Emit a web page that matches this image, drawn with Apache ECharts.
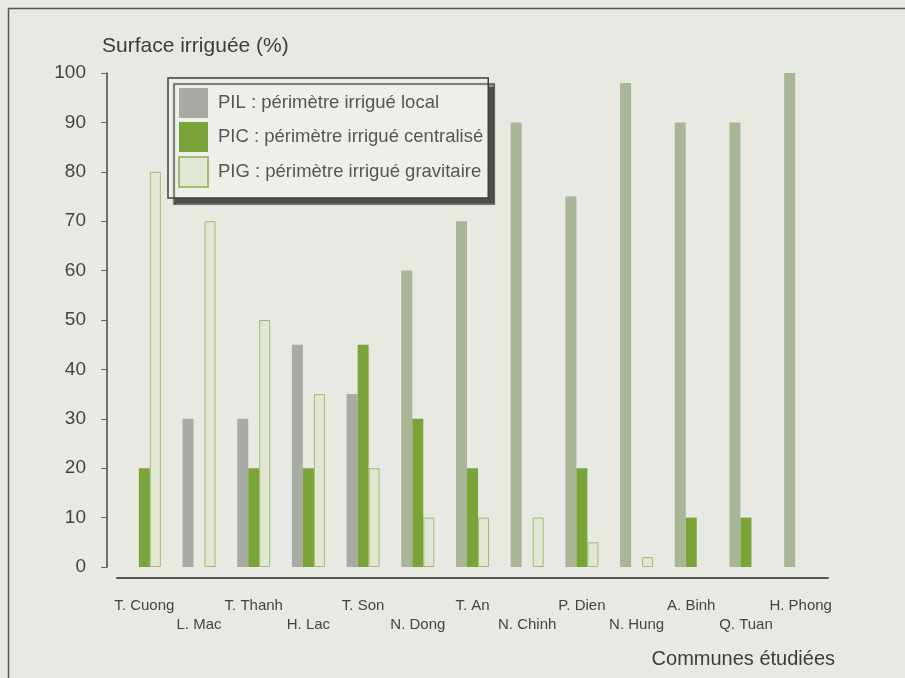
<!DOCTYPE html>
<html>
<head>
<meta charset="utf-8">
<script src="https://cdn.jsdelivr.net/npm/echarts@6/dist/echarts.min.js"></script>
<style>
  html, body { margin: 0; padding: 0; background: #e9e9e3; }
  #chart { width: 905px; height: 678px; }
</style>
</head>
<body>
<div id="chart"></div>
<script>
// communes étudiées
const communes = ['T. Cuong', 'L. Mac', 'T. Thanh', 'H. Lac', 'T. Son', 'N. Dong', 'T. An',
  'N. Chinh', 'P. Dien', 'N. Hung', 'A. Binh', 'Q. Tuan', 'H. Phong'];
// surface irriguée (%)
const pil = [0, 30, 30, 45, 35, 60, 70, 90, 75, 98, 90, 90, 100];
const pic = [20, 0, 20, 20, 45, 30, 20, 0, 20, 0, 10, 10, 0];
const pig = [80, 70, 50, 35, 20, 10, 10, 10, 5, 2, 0, 0, 0];
const yMin = 0, yMax = 100, yStep = 10;

const seriesNames = [
  'PIL : périmètre irrigué local',
  'PIC : périmètre irrigué centralisé',
  'PIG : périmètre irrigué gravitaire'
];

// pas de barre pour les zéros
function bars(arr) {
  return arr.map(v => (v === 0 ? '-' : v));
}

const chart = echarts.init(document.getElementById('chart'));
const font = 'Liberation Sans, Arial, sans-serif';

chart.setOption({
  backgroundColor: '#e9e9e3',
  animation: false,
  textStyle: { fontFamily: font },
  grid: { left: 117, right: 77, top: 73, bottom: 111 },
  legend: {
    orient: 'vertical',
    left: 168,
    top: 78,
    itemWidth: 29,
    itemHeight: 30,
    itemGap: 4,
    padding: [10, 5, 10, 10],
    icon: 'rect',
    backgroundColor: '#efefea',
    borderColor: '#3e3e3e',
    borderWidth: 1.5,
    shadowColor: 'rgba(60,60,60,0.9)',
    shadowBlur: 1,
    shadowOffsetX: 6,
    shadowOffsetY: 6,
    textStyle: { fontSize: 18.5, color: '#555', padding: [0, 0, 0, 5] },
    data: [
      { name: seriesNames[0], itemStyle: { color: '#a8aaa6' } },
      { name: seriesNames[1] },
      { name: seriesNames[2] }
    ]
  },
  xAxis: {
    type: 'category',
    data: communes,
    offset: 11,
    axisLine: { onZero: false, lineStyle: { color: '#555', width: 2 } },
    axisTick: { length: 5, lineStyle: { color: '#777' } },
    axisLabel: {
      interval: 0,
      margin: 18,
      fontSize: 15,
      color: '#444',
      lineHeight: 19,
      verticalAlign: 'top',
      formatter: (v, i) => (i % 2 === 1 ? '\n' + v : v)
    }
  },
  yAxis: {
    type: 'value',
    min: yMin,
    max: yMax,
    interval: yStep,
    offset: 10,
    splitLine: { show: false },
    axisLine: { show: true, lineStyle: { color: '#444', width: 1.5 } },
    axisTick: { show: true, length: 6, lineStyle: { color: '#666' } },
    axisLabel: { fontSize: 19, color: '#444', margin: 21 }
  },
  series: [
    {
      name: seriesNames[0],
      type: 'bar',
      barWidth: 11,
      barGap: '0%',
      data: bars(pil),
      itemStyle: {
        color: p => (p.dataIndex >= 5 ? '#a9b597' : '#a8aaa6')
      }
    },
    {
      name: seriesNames[1],
      type: 'bar',
      barWidth: 11,
      data: bars(pic),
      itemStyle: { color: '#7aa43a' }
    },
    {
      name: seriesNames[2],
      type: 'bar',
      barWidth: 11,
      data: bars(pig),
      itemStyle: { color: '#e2e6d4', borderColor: '#9fbd6e', borderWidth: 1 }
    }
  ],
  graphic: [
    {
      type: 'rect',
      silent: true,
      z: -1,
      shape: { x: 8.5, y: 8.5, width: 1000, height: 1000 },
      style: { fill: 'none', stroke: '#555', lineWidth: 1.5 }
    },
    {
      type: 'text',
      left: 102,
      top: 36,
      style: { text: 'Surface irriguée (%)', fill: '#3c3c3c', font: '21px ' + font }
    },
    {
      type: 'text',
      right: 70,
      top: 649,
      style: { text: 'Communes étudiées', fill: '#3c3c3c', font: '20px ' + font }
    }
  ]
});
</script>
</body>
</html>
